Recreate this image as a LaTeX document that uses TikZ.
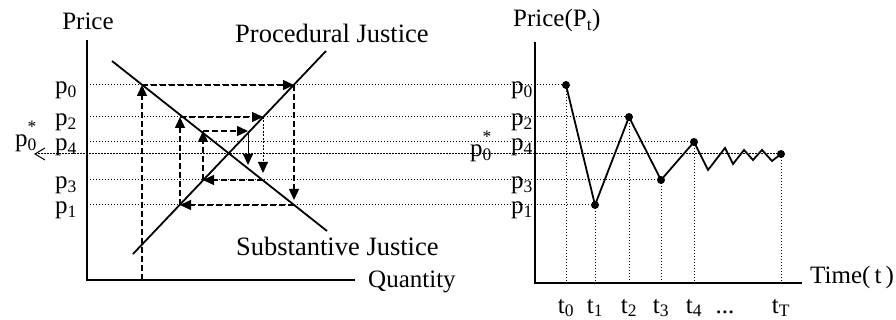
\documentclass[tikz,border=0pt]{standalone}
\usepackage{fontspec}
\setmainfont{Liberation Serif}
\usepackage{tikz}
\usetikzlibrary{arrows.meta,positioning,calc}

\begin{document}
\begin{tikzpicture}[x=1pt,y=-1pt,font=\fontsize{25}{28}\selectfont,
    axis/.style={line width=2.8pt,line join=miter},
    curve/.style={line width=1.8pt},
    guide/.style={line width=1pt,dash pattern=on 1.2pt off 1.8pt},
    web/.style={line width=1.4pt,dash pattern=on 6pt off 3pt,
                -{Triangle[length=11pt,width=10pt]}},
    dot/.style={circle,fill,inner sep=0pt,minimum size=8pt},
    lvl/.style={anchor=base,inner sep=0pt},
    big/.style={font=\fontsize{26.5}{30}\selectfont}]
  \useasboundingbox (0,0) rectangle (896,320);

  % Left: the two justice lines
  \coordinate (ly) at (87,40);
  \coordinate (lo) at (87,280);
  \coordinate (lx) at (355,280);
  \coordinate (sub1) at (112,61);
  \coordinate (sub2) at (327,231);
  \coordinate (pro1) at (133,254);
  \coordinate (pro2) at (326,51);
  \node[anchor=center] (price) at (88,21) {Price};
  \node[anchor=base west,inner sep=0pt] (quantity) at (368,287) {Quantity};
  \node[big,anchor=base west,inner sep=0pt] (procedural) at (235,43) {Procedural Justice};
  \node[big,anchor=base west,inner sep=0pt] (substantive) at (236,255) {Substantive Justice};

  % Right: price over time
  \coordinate (ry) at (535,42);
  \coordinate (ro) at (535,283);
  \coordinate (rx) at (802,283);
  \node[anchor=base west,inner sep=0pt] (pricet) at (513,27) {Price(P\textsubscript{t})};
  \node[anchor=base west,inner sep=0pt] (time) at (810,283) {Time(\,t\,)};
  \foreach \n/\xx/\yy in {0/566/85,1/595/205,2/629/117,3/661/180,4/694/142,T/781/154}{
    \node[dot] (P\n) at (\xx,\yy) {};
    \node[anchor=base,inner sep=0pt] (t\n) at (\xx,313) {t\textsubscript{\n}};
  }
  \node[anchor=base,inner sep=0pt] (tdots) at (725,313) {...};
  \foreach \n/\xx/\yy in {1/708/170,2/725/148,3/733/164,4/744/150,5/753/160,6/762/150,7/772/161}
    \coordinate (z\n) at (\xx,\yy);

  % price levels
  \foreach \n/\yy in {0/85,2/117,4/142,3/180,1/205}{
    \coordinate (L\n) at (90,\yy);
    \node[lvl] (lp\n) at (66,\yy+9) {p\textsubscript{\n}};
    \node[lvl] (rp\n) at (522,\yy+9) {p\textsubscript{\n}};
    \draw[guide] (L\n) -- (P\n.center);
  }
  \coordinate (s0) at (34,154);
  \node[anchor=base east,inner sep=0pt] (lstar) at (37,147)
    {p\rlap{\raisebox{5pt}{\textsuperscript{*}}}\textsubscript{0}};
  \node[anchor=base west,inner sep=0pt] (rstar) at (470,157)
    {p\rlap{\raisebox{5pt}{\textsuperscript{*}}}\textsubscript{0}};
  \draw[guide,{Straight Barb[length=10pt,width=12pt,line width=1pt]}-] (s0) -- (PT.center);
  \foreach \n in {0,1,2,3,4,T}
    \draw[guide] (P\n.center) -- (P\n |- ro);

  % axes and lines
  \draw[axis] (ly) -- (lo) -- (lx);
  \draw[axis] (ry) -- (ro) -- (rx);
  \draw[curve] (sub1) -- (sub2);
  \draw[curve] (pro1) -- (pro2);
  \draw[curve] (P0.center) -- (P1.center) -- (P2.center) -- (P3.center) -- (P4.center)
    -- (z1) -- (z2) -- (z3) -- (z4) -- (z5) -- (z6) -- (z7) -- (PT.center);

  % Cobweb
  \foreach \n/\xx/\yy in {0/142/85,1/294/85,2/294/205,3/180/205,4/180/117,5/263/117,
                          6/263/180,7/203/180,8/203/131,9/248/131,10/248/165}
    \coordinate (c\n) at (\xx,\yy);
  \coordinate (foot) at (142,280);
  \draw[web] (foot) -- (c0);
  \foreach \a/\b in {c0/c1,c2/c3,c3/c4,c4/c5,c6/c7,c7/c8,c8/c9}
    \draw[web] (\a) -- (\b);
  \draw[web,shorten >=5pt] (c1) -- (c2);
  \draw[web,line width=1pt,dash pattern=on 2pt off 1.5pt,shorten >=7pt] (c5) -- (c6);
  \draw[web,line width=1pt,solid] (c9) -- (c10);
\end{tikzpicture}
\end{document}
